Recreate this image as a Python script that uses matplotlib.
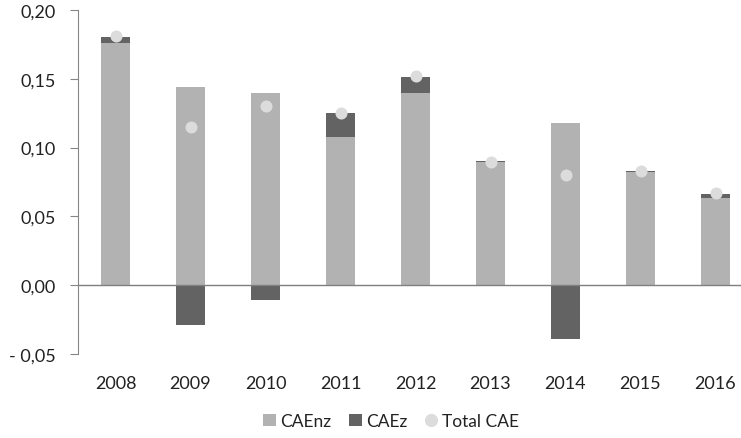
import matplotlib
matplotlib.use("Agg")
import matplotlib.pyplot as plt
import numpy as np
from matplotlib.lines import Line2D
from matplotlib.patches import Patch

years = ["2008", "2009", "2010", "2011", "2012", "2013", "2014", "2015", "2016"]
caenz = [0.176, 0.144, 0.140, 0.108, 0.140, 0.0895, 0.118, 0.0825, 0.0635]
caez = [0.0045, -0.029, -0.011, 0.017, 0.011, 0.0005, -0.039, 0.0005, 0.003]
total_cae = [0.181, 0.115, 0.130, 0.125, 0.152, 0.0898, 0.080, 0.083, 0.0667]

light = "#b2b2b2"
dark = "#636363"
dot = "#dcdcdc"

plt.rcParams['font.family'] = ['Lato', 'DejaVu Sans']
fs = 13

fig = plt.figure(figsize=(7.41, 4.39), dpi=100)
ax = fig.add_axes([78 / 741, 1 - 355 / 439, 675 / 741, (355 - 11) / 439])

x = np.arange(len(years))
w = 0.39
caenz_a = np.array(caenz)
caez_a = np.array(caez)
# positive CAEz sits on top of CAEnz, negative one hangs below zero
bottoms = np.where(caez_a > 0, caenz_a, 0)

ax.bar(x, caenz_a, w, color=light, zorder=2)
ax.bar(x, caez_a, w, bottom=bottoms, color=dark, zorder=2)
ax.scatter(x, total_cae, s=75, color=dot, zorder=3, linewidths=0)

ax.axhline(0, color="#7f7f7f", lw=1, zorder=4)

ax.set_xlim(-0.5, len(years) - 0.5)
ax.set_ylim(-0.05, 0.20)
ax.set_yticks([-0.05, 0, 0.05, 0.10, 0.15, 0.20])
ax.set_yticklabels(["- 0,05", "0,00", "0,05", "0,10", "0,15", "0,20"])
ax.set_xticks(x)
ax.set_xticklabels(years)

for s in ["top", "right", "bottom"]:
    ax.spines[s].set_visible(False)
ax.spines["left"].set_color("#868686")
ax.tick_params(axis="y", length=6, color="#868686", labelsize=fs, pad=10)
for t in ax.get_yticklabels():
    t.set_color("#222222")
ax.tick_params(axis="x", length=0, labelsize=fs, pad=15)
for t in ax.get_xticklabels():
    t.set_color("#222222")

handles = [
    Patch(facecolor=light, edgecolor="none"),
    Patch(facecolor=dark, edgecolor="none"),
    Line2D([], [], marker="o", ls="none", color=dot, markersize=8.5),
]
fig.legend(handles, ["CAEnz", "CAEz", "Total CAE"], loc="center",
           bbox_to_anchor=(391 / 741, 1 - 422 / 439), ncol=3, frameon=False,
           fontsize=12.5, handlelength=0.75, handleheight=0.75, handletextpad=0.25,
           columnspacing=1.0, labelcolor="#222222")

fig.savefig("out.png", dpi=100)
